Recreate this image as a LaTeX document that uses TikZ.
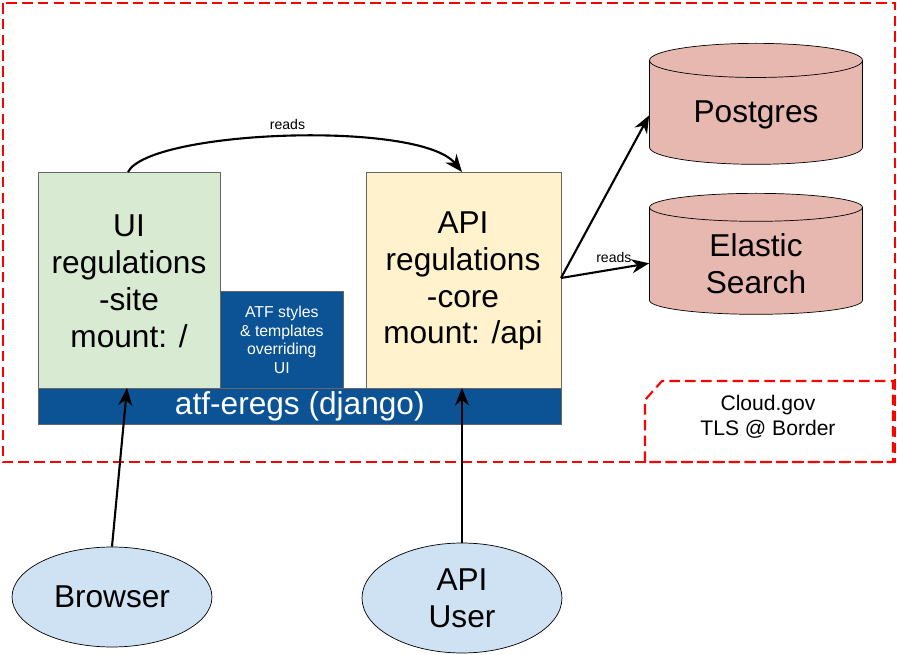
\documentclass[tikz,border=0pt]{standalone}
\usepackage{fontspec}
\setmainfont{Liberation Sans}
\usetikzlibrary{shapes.geometric,arrows.meta}
\definecolor{uigreen}{HTML}{D9EAD3}
\definecolor{apiyellow}{HTML}{FFF2CC}
\definecolor{atfblue}{HTML}{0B5394}
\definecolor{dbred}{HTML}{E6B8AF}
\definecolor{userblue}{HTML}{CFE2F3}
\definecolor{borderred}{HTML}{FF0000}
\tikzset{
  big/.style={font=\fontsize{18}{21}\selectfont},
  box/.style={draw=black!60},
  db/.style={cylinder, shape border rotate=90, aspect=0.25, draw=black, fill=dbred,
    minimum width=4.26cm, minimum height=2.42cm, align=center, big},
  client/.style={ellipse, draw=black, fill=userblue, align=center, big},
  flow/.style={very thick, -{Stealth[length=10pt,width=8pt]}},
  border/.style={borderred, line width=1.2pt, dash pattern=on 6pt off 3pt},
  note/.style={font=\fontsize{8}{9}\selectfont}
}
\begin{document}
\begin{tikzpicture}[x=0.02cm, y=-0.02cm]
      \useasboundingbox (0,0) rectangle (897,655);

      % Cloud boundary
      \draw[border] (3,3) rectangle (895,462);
      \draw[border] (645,462) -- (645,400) -- (662,381) -- (893,381) -- (893,462) -- cycle;
      \node[font=\fontsize{12}{14}\selectfont, align=center] (cloud) at (768,417) {Cloud.gov\\TLS @ Border};

      % App boxes
      \node[box, fill=uigreen, minimum width=3.64cm, minimum height=4.32cm, anchor=north west] (ui) at (38,172) {};
      \node[big, align=center] (uitext) at (129,281) {UI\\regulations\\-site\\mount: /};
      \node[box, fill=apiyellow, minimum width=3.9cm, minimum height=4.32cm, anchor=north west] (api) at (366,172) {};
      \node[big, align=center] (apitext) at (463,281) {API\\regulations\\-core\\mount: /api};
      \node[fill=atfblue, draw=black!60, text=white, align=center, font=\fontsize{9}{10.5}\selectfont,
        minimum width=2.46cm, minimum height=1.94cm, anchor=north west, inner sep=1pt] (atf) at (220,291) {ATF styles\\\& templates\\overriding\\UI};
      \node[fill=atfblue, draw=black!60, text=white, big,
        minimum width=10.46cm, minimum height=0.72cm, anchor=north west, inner sep=0pt] (django) at (38,388) {atf-eregs (django)};

      % Databases
      \node[db, anchor=north] (pg) at (756,43) {Postgres};
      \node[db, anchor=north] (es) at (756,193) {Elastic\\Search};

      % Clients
      \node[client, minimum width=4cm, minimum height=2cm] (browser) at (112,597) {Browser};
      \node[client, minimum width=4cm, minimum height=2.2cm] (user) at (462,598) {API\\User};

      % Connectors
      \coordinate (uitop) at (128,172);
      \coordinate (apitop) at (462,172);
      \coordinate (apiright) at (561,278);
      \draw[flow] (uitop) .. controls (150,130) and (420,120) .. (apitop) node[note, pos=0.5, above] {reads};
      \draw[flow] (apiright) -- (pg.west);
      \draw[flow] (apiright) -- (es.west) node[note, pos=0.6, above] {reads};
      \draw[flow] (browser.north) -- (127,388);
      \draw[flow] (user.north) -- (462,388);
\end{tikzpicture}
\end{document}
